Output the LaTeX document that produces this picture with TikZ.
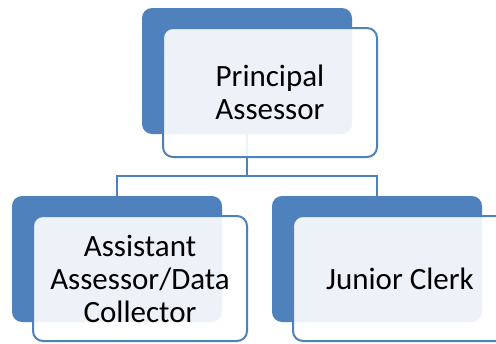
\documentclass[tikz,border=0pt]{standalone}
\usepackage{fontspec}
\setmainfont{Carlito}
\definecolor{accent}{HTML}{4F81BD}
\begin{document}
\begin{tikzpicture}[x=1bp,y=-1bp,
  back/.style={fill=accent,rounded corners=10bp},
  front/.style={draw=accent,line width=2bp,fill=white,fill opacity=0.9,draw opacity=1,text opacity=1,rounded corners=10bp},
  lbl/.style={align=center,font=\fontsize{31bp}{33bp}\selectfont,text=black},
  conn/.style={draw=accent,line width=2bp}]
\useasboundingbox (0,0) rectangle (496,343);
% connectors
\coordinate (tb) at (246.7,134);
\coordinate (jl) at (116.7,176);
\coordinate (jr) at (377,176);
\coordinate (jm) at (246.7,176);
\coordinate (bl) at (116.7,197);
\coordinate (br) at (377,197);
\draw[conn] (tb) -- (jm);
\draw[conn] (bl) -- (jl) -- (jr) -- (br);
% top
\fill[back] (142,8) rectangle (352,134);
\path[front] (163,28) rectangle (377,157);
\node[lbl] (pa) at (270,92) {Principal\\Assessor};
% bottom left
\fill[back] (12,196) rectangle (222,322);
\path[front] (33,216) rectangle (247,341);
\node[lbl] (aa) at (140,279) {Assistant\\Assessor/Data\\Collector};
% bottom right
\fill[back] (272,196) rectangle (482,322);
\path[front] (293,216) rectangle (508,341);
\node[lbl] (jc) at (400,279) {Junior Clerk};
\end{tikzpicture}
\end{document}
